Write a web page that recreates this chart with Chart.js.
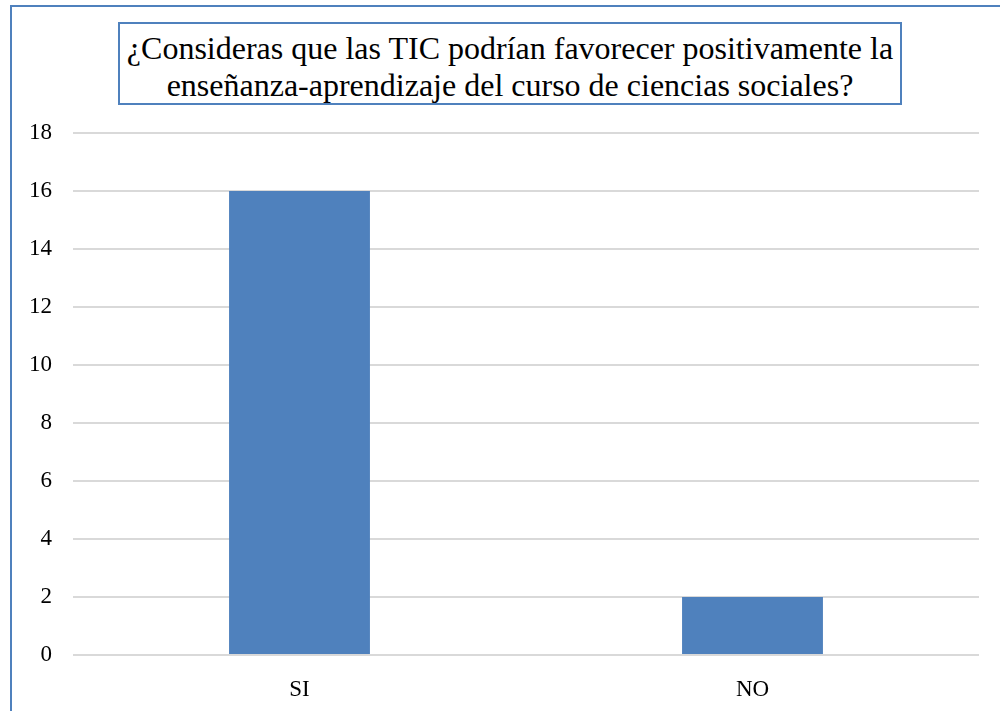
<!DOCTYPE html>
<html>
<head>
<meta charset="utf-8">
<script src="https://cdn.jsdelivr.net/npm/chart.js@4/dist/chart.umd.min.js"></script>
<style>
  html, body { margin: 0; padding: 0; background: #fff; }
  #wrap { position: relative; width: 1000px; height: 711px; overflow: hidden; }
  #frame { position: absolute; left: 10px; top: 5px; width: 1000px; height: 720px;
           border-left: 2px solid #4f81bd; border-top: 2px solid #4f81bd; box-sizing: border-box; }
  #title { position: absolute; left: 118px; top: 22px; width: 784px; height: 83px;
           border: 2px solid #4f81bd; box-sizing: border-box; background: #fff;
           font-family: 'Liberation Serif', 'Times New Roman', serif; font-size: 32px;
           line-height: 37px; text-align: center; color: #000; padding-top: 6px; z-index: 2;
           white-space: nowrap; }
  canvas { position: absolute; left: 0; top: 0; }
</style>
</head>
<body>
<div id="wrap">
  <div id="frame"></div>
  <canvas id="c" width="1000" height="711"></canvas>
  <div id="title">¿Consideras que las TIC podrían favorecer positivamente la<br>enseñanza-aprendizaje del curso de ciencias sociales?</div>
</div>
<script>
const categories = ["SI", "NO"];
const values = [16, 2];
const yTicks = [0, 2, 4, 6, 8, 10, 12, 14, 16, 18];

const serif = "'Liberation Serif', 'Times New Roman', serif";
new Chart(document.getElementById('c'), {
  type: 'bar',
  data: {
    labels: categories,
    datasets: [{ data: values, backgroundColor: '#4f81bd', borderWidth: 0,
                 categoryPercentage: 1, barPercentage: 0.311 }]
  },
  options: {
    responsive: false,
    animation: false,
    devicePixelRatio: 1,
    layout: { padding: { top: 133, left: 12, right: 21, bottom: 0 } },
    plugins: { legend: { display: false }, title: { display: false }, tooltip: { enabled: false } },
    scales: {
      x: {
        grid: { display: false, drawTicks: false },
        border: { display: false },
        ticks: { color: '#000', font: { family: serif, size: 23 }, padding: 21 },
        afterFit: s => { s.height = 56; }
      },
      y: {
        min: 0, max: 18,
        afterBuildTicks: s => { s.ticks = yTicks.map(v => ({ value: v })); },
        grid: { color: '#d9d9d9', lineWidth: 2, drawTicks: false },
        border: { display: false },
        ticks: { color: '#000', font: { family: serif, size: 23 }, padding: 21 },
        afterFit: s => { s.width = 61; }
      }
    }
  }
});
</script>
</body>
</html>
